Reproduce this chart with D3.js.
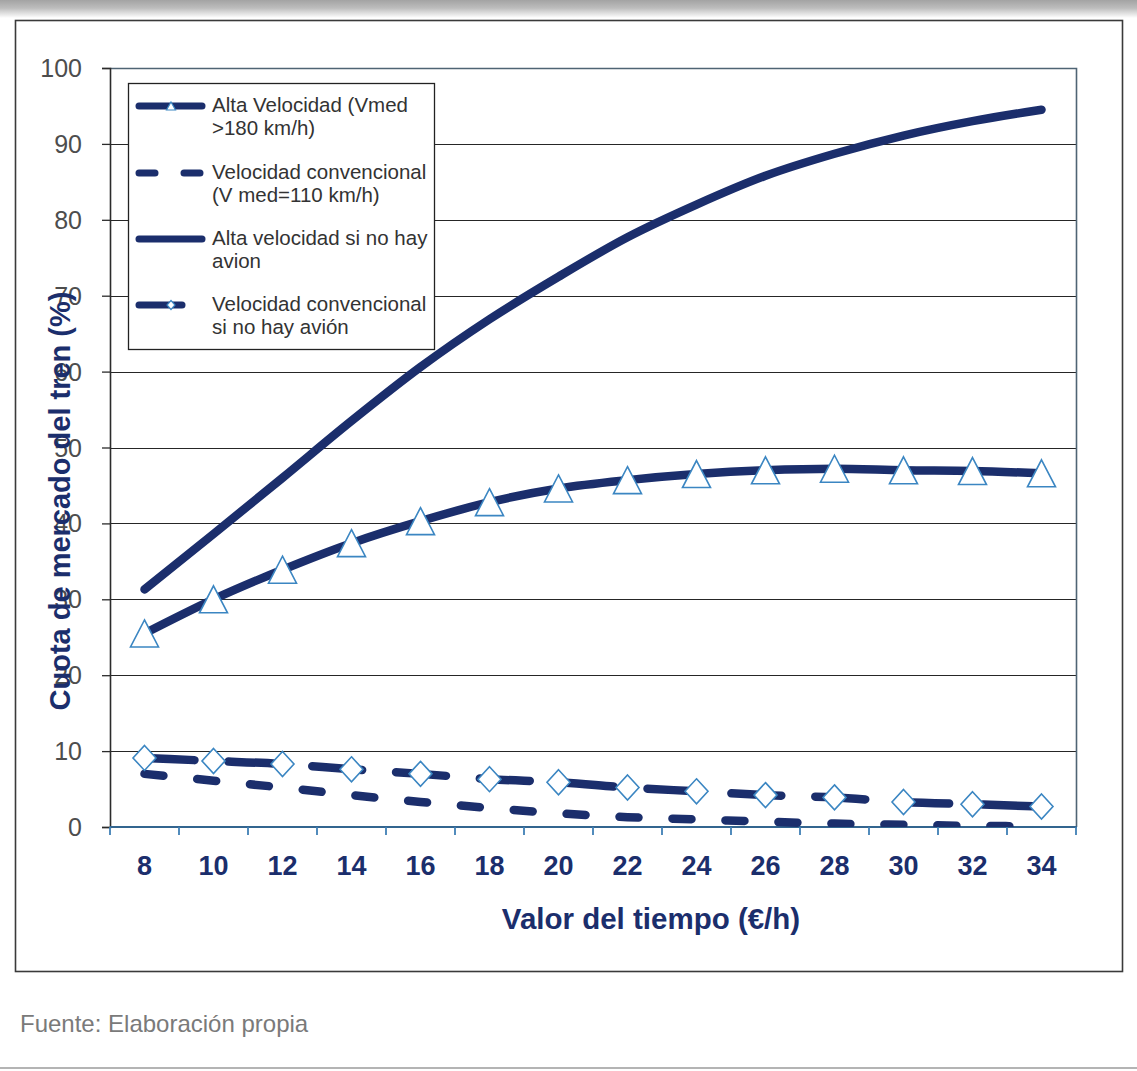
<!DOCTYPE html>
<html lang="es">
<head>
<meta charset="utf-8">
<title>Cuota de mercado del tren</title>
<script src="https://cdn.jsdelivr.net/npm/d3@7"></script>
<style>
  html, body { margin: 0; padding: 0; background: #ffffff; }
  svg { display: block; }
</style>
</head>
<body>
<svg id="chart" width="1137" height="1071"></svg>
<script>
// Valor del tiempo (€/h)
const valorTiempo = [8, 10, 12, 14, 16, 18, 20, 22, 24, 26, 28, 30, 32, 34];
// Cuota de mercado del tren (%) por escenario
const altaVelocidad = [25.5, 30.0, 33.9, 37.4, 40.3, 42.8, 44.6, 45.7, 46.5, 47.0, 47.2, 47.0, 46.9, 46.6];
const velocidadConvencional = [7.0, 6.1, 5.2, 4.2, 3.3, 2.5, 1.8, 1.3, 1.0, 0.7, 0.45, 0.3, 0.15, 0.1];
const altaSinAvion = [31.3, 38.6, 46.0, 53.5, 60.6, 66.9, 72.5, 77.7, 82.0, 85.8, 88.7, 91.1, 93.0, 94.5];
const convencionalSinAvion = [9.1, 8.7, 8.3, 7.6, 7.0, 6.3, 5.9, 5.2, 4.7, 4.2, 3.9, 3.3, 3.0, 2.7];
const yTicks = [0, 10, 20, 30, 40, 50, 60, 70, 80, 90, 100];
const legendLabels = [
  ["Alta Velocidad (Vmed", ">180 km/h)"],
  ["Velocidad convencional", "(V med=110 km/h)"],
  ["Alta velocidad si no hay", "avion"],
  ["Velocidad convencional", "si no hay avión"]
];

const NAVY = "#1b2e6c";
const MARK = "#3b86c2";
const FONT = "'Liberation Sans', Arial, sans-serif";

const svg = d3.select("#chart");
const W = 1137, H = 1071;
const plot = { left: 110, right: 1076, top: 68, bottom: 827 };

// page decoration: soft grey band on top, rule at the bottom
const defs = svg.append("defs");
const grad = defs.append("linearGradient").attr("id", "topShade")
  .attr("x1", 0).attr("y1", 0).attr("x2", 0).attr("y2", 1);
grad.append("stop").attr("offset", "0%").attr("stop-color", "#a3a3a3");
grad.append("stop").attr("offset", "45%").attr("stop-color", "#bdbdbd");
grad.append("stop").attr("offset", "100%").attr("stop-color", "#ffffff");
svg.append("rect").attr("x", 0).attr("y", 0).attr("width", W).attr("height", 18)
  .attr("fill", "url(#topShade)");
svg.append("line").attr("x1", 0).attr("x2", W).attr("y1", 1068).attr("y2", 1068)
  .attr("stroke", "#b4b4b4").attr("stroke-width", 2);

// chart frame
svg.append("rect").attr("x", 15.5).attr("y", 20.5).attr("width", 1107).attr("height", 951)
  .attr("fill", "#ffffff").attr("stroke", "#3a3a3a").attr("stroke-width", 1.6);

// scales
const x = d3.scaleBand().domain(valorTiempo).range([plot.left, plot.right]).padding(0);
const y = d3.scaleLinear().domain([0, 100]).range([plot.bottom, plot.top]);
const cx = v => x(v) + x.bandwidth() / 2;

// horizontal gridlines
svg.append("g").selectAll("line").data(yTicks.filter(t => t > 0 && t < 100)).join("line")
  .attr("x1", plot.left).attr("x2", plot.right)
  .attr("y1", d => Math.round(y(d)) + 0.5).attr("y2", d => Math.round(y(d)) + 0.5)
  .attr("stroke", "#262626").attr("stroke-width", 1.2);

// plot border (top and right)
svg.append("path")
  .attr("d", `M${plot.left},${plot.top + 0.5}H${plot.right + 0.5}V${plot.bottom}`)
  .attr("fill", "none").attr("stroke", "#4f6474").attr("stroke-width", 1.6);

// y axis
const yAxis = d3.axisLeft(y).tickValues(yTicks).tickSize(8).tickPadding(20).tickFormat(d3.format("d"));
const gy = svg.append("g").attr("transform", `translate(${plot.left},0)`).call(yAxis);
gy.select(".domain").attr("stroke", "#2b2b2b").attr("stroke-width", 1.6);
gy.selectAll(".tick line").attr("stroke", "#2b2b2b").attr("stroke-width", 1.3);
gy.selectAll(".tick text").attr("fill", "#4d4d4d").attr("font-family", FONT)
  .attr("font-size", 25).attr("dy", "0.34em");

// x axis: labels at band centres, ticks at band boundaries
const xAxis = d3.axisBottom(x).tickSize(0).tickPadding(29);
const gx = svg.append("g").attr("transform", `translate(0,${plot.bottom})`).call(xAxis);
gx.select(".domain").remove();
gx.selectAll(".tick text").attr("fill", NAVY).attr("font-family", FONT)
  .attr("font-size", 27).attr("font-weight", "bold").attr("dy", "0.71em");
const boundaries = valorTiempo.map(v => x(v)).concat([plot.right]);
gx.append("line").attr("x1", plot.left).attr("x2", plot.right + 1).attr("y1", 0).attr("y2", 0)
  .attr("stroke", "#33658f").attr("stroke-width", 1.8);
gx.selectAll(".btick").data(boundaries).join("line").attr("class", "btick")
  .attr("x1", d => d).attr("x2", d => d).attr("y1", 0).attr("y2", 8)
  .attr("stroke", "#3f7fb5").attr("stroke-width", 1.8);

// axis titles
svg.append("text")
  .attr("transform", "translate(70,501) rotate(-90)")
  .attr("text-anchor", "middle").attr("font-family", FONT).attr("font-size", 29)
  .attr("font-weight", "bold").attr("fill", NAVY)
  .text("Cuota de mercado del tren (%)");
svg.append("text").attr("x", 651).attr("y", 929)
  .attr("text-anchor", "middle").attr("font-family", FONT).attr("font-size", 29.5)
  .attr("font-weight", "bold").attr("fill", NAVY)
  .text("Valor del tiempo (€/h)");

// source note
svg.append("text").attr("x", 20).attr("y", 1032)
  .attr("font-family", FONT).attr("font-size", 24).attr("fill", "#7a7a7a")
  .text("Fuente: Elaboración propia");

// series lines (clipped to the plot area)
defs.append("clipPath").attr("id", "plotClip").append("rect")
  .attr("x", plot.left).attr("y", plot.top - 10)
  .attr("width", plot.right - plot.left).attr("height", plot.bottom - plot.top + 10);

const lineGen = d3.line().x(d => cx(d[0])).y(d => y(d[1])).curve(d3.curveMonotoneX);
const series = [
  { values: altaVelocidad, dash: null, marker: "triangle" },
  { values: velocidadConvencional, dash: "19,34", marker: null },
  { values: altaSinAvion, dash: null, marker: null },
  { values: convencionalSinAvion, dash: "50,34", marker: "diamond" }
];

const gLines = svg.append("g").attr("clip-path", "url(#plotClip)");
series.forEach(s => {
  gLines.append("path")
    .datum(valorTiempo.map((v, i) => [v, s.values[i]]))
    .attr("d", lineGen)
    .attr("fill", "none").attr("stroke", NAVY).attr("stroke-width", 8.5)
    .attr("stroke-linecap", "round").attr("stroke-linejoin", "round")
    .attr("stroke-dasharray", s.dash);
});

// marker shapes
function triangle(w, h) { return `M0,${-h / 2}L${w / 2},${h / 2}L${-w / 2},${h / 2}Z`; }
function diamond(w, h) { return `M0,${-h / 2}L${w / 2},0L0,${h / 2}L${-w / 2},0Z`; }

series.forEach(s => {
  if (!s.marker) return;
  const shape = s.marker === "triangle" ? triangle(28, 27) : diamond(23, 25);
  svg.append("g").selectAll("path").data(valorTiempo.map((v, i) => [v, s.values[i]])).join("path")
    .attr("transform", d => `translate(${cx(d[0])},${y(d[1])})`)
    .attr("d", shape)
    .attr("fill", "#ffffff").attr("stroke", MARK).attr("stroke-width", 1.6);
});

// legend
const lg = svg.append("g");
lg.append("rect").attr("x", 128.5).attr("y", 83.5).attr("width", 306).attr("height", 266)
  .attr("fill", "#ffffff").attr("stroke", "#222").attr("stroke-width", 1.3);
const legendY = [106, 173, 239, 305];
const legendStyle = [
  { x2: 205, dash: null, marker: "triangle" },
  { x2: 205, dash: "16,29", marker: null },
  { x2: 205, dash: null, marker: null },
  { x2: 185, dash: null, marker: "diamond" }
];
legendLabels.forEach((lab, i) => {
  const ly = legendY[i], st = legendStyle[i];
  lg.append("line").attr("x1", 139).attr("x2", st.x2 - 3).attr("y1", ly).attr("y2", ly)
    .attr("stroke", NAVY).attr("stroke-width", 7).attr("stroke-linecap", "round")
    .attr("stroke-dasharray", st.dash);
  if (st.marker) {
    lg.append("path").attr("transform", `translate(171,${ly})`)
      .attr("d", st.marker === "triangle" ? triangle(9, 8) : diamond(8, 9))
      .attr("fill", "#ffffff").attr("stroke", MARK).attr("stroke-width", 1.2);
  }
  lab.forEach((t, j) => {
    lg.append("text").attr("x", 212).attr("y", ly + 6 + j * 23)
      .attr("font-family", FONT).attr("font-size", 20.5).attr("fill", "#333333")
      .text(t);
  });
});
</script>
</body>
</html>
